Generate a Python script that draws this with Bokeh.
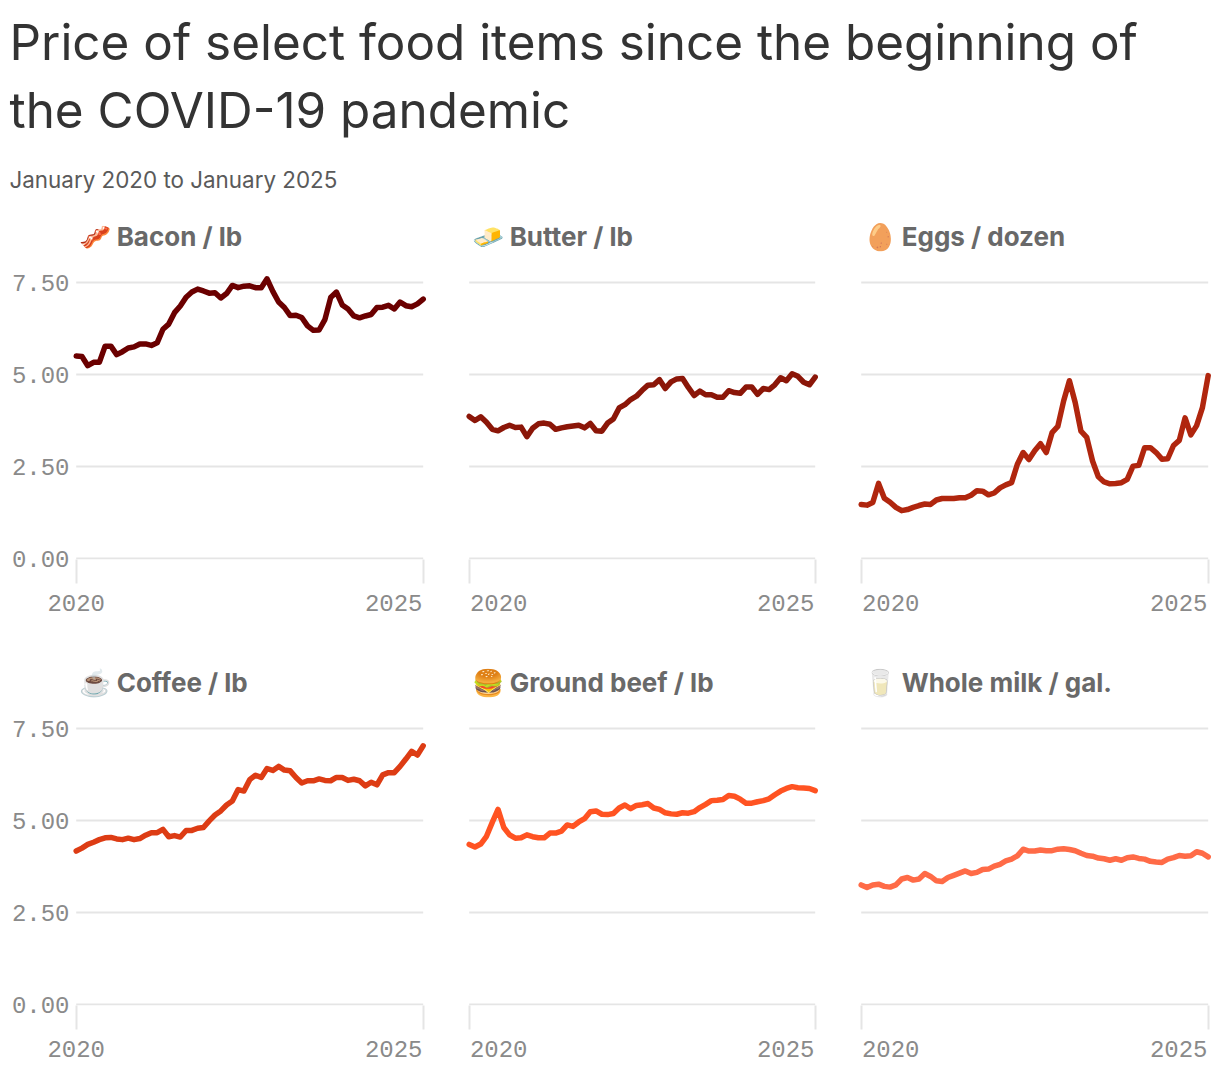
from bokeh.plotting import figure
from bokeh.models import Label, Range1d, FixedTicker, NumeralTickFormatter
from bokeh.layouts import column, row
from bokeh.embed import file_html
from bokeh.resources import INLINE

title_lines = ["Price of select food items since the beginning of", "the COVID-19 pandemic"]
subtitle = "January 2020 to January 2025"
y_ticks = [0, 2.5, 5, 7.5]
x_ticks = [2020, 2025]
months = [2020 + i / 12 for i in range(61)]

bacon = [5.50,5.49,5.24,5.33,5.33,5.77,5.77,5.54,5.62,5.72,5.75,5.83,5.83,5.79,5.86,6.23,6.37,6.68,6.86,7.10,7.24,7.32,7.27,7.21,7.22,7.08,7.20,7.42,7.36,7.40,7.41,7.36,7.36,7.60,7.26,6.97,6.82,6.60,6.61,6.55,6.32,6.20,6.21,6.49,7.09,7.24,6.89,6.78,6.59,6.54,6.59,6.63,6.82,6.83,6.88,6.78,6.97,6.87,6.84,6.92,7.05]
butter = [3.86,3.75,3.85,3.70,3.51,3.47,3.56,3.62,3.56,3.57,3.31,3.54,3.66,3.68,3.65,3.51,3.55,3.58,3.60,3.62,3.55,3.67,3.47,3.46,3.68,3.79,4.09,4.18,4.32,4.41,4.57,4.71,4.72,4.86,4.62,4.80,4.88,4.89,4.65,4.43,4.55,4.45,4.45,4.38,4.38,4.56,4.51,4.49,4.66,4.66,4.46,4.62,4.59,4.72,4.91,4.83,5.02,4.95,4.79,4.72,4.93]
eggs = [1.47,1.45,1.52,2.04,1.64,1.53,1.39,1.30,1.33,1.39,1.44,1.48,1.47,1.59,1.63,1.63,1.63,1.65,1.65,1.72,1.84,1.83,1.73,1.78,1.92,2.00,2.06,2.56,2.88,2.69,2.93,3.12,2.88,3.42,3.59,4.28,4.83,4.24,3.46,3.29,2.65,2.22,2.08,2.03,2.04,2.06,2.15,2.51,2.53,3.01,3.01,2.88,2.70,2.71,3.07,3.21,3.82,3.36,3.61,4.10,4.97]
coffee = [4.17,4.25,4.35,4.41,4.48,4.53,4.54,4.50,4.48,4.52,4.48,4.51,4.60,4.67,4.67,4.76,4.56,4.59,4.55,4.73,4.73,4.79,4.81,4.99,5.15,5.26,5.42,5.53,5.84,5.80,6.11,6.23,6.17,6.41,6.36,6.47,6.37,6.35,6.17,6.02,6.08,6.08,6.13,6.09,6.08,6.17,6.17,6.09,6.12,6.08,5.94,6.04,5.97,6.24,6.30,6.30,6.47,6.67,6.88,6.78,7.03]
beef = [4.35,4.28,4.36,4.57,4.95,5.30,4.81,4.61,4.52,4.53,4.61,4.56,4.53,4.53,4.66,4.66,4.71,4.88,4.84,4.96,5.05,5.24,5.26,5.17,5.16,5.19,5.34,5.42,5.32,5.41,5.43,5.46,5.34,5.30,5.21,5.18,5.17,5.21,5.20,5.24,5.35,5.44,5.54,5.55,5.57,5.68,5.66,5.58,5.47,5.47,5.51,5.54,5.59,5.70,5.80,5.87,5.92,5.89,5.88,5.87,5.81]
milk = [3.25,3.18,3.25,3.27,3.21,3.19,3.25,3.41,3.45,3.38,3.41,3.56,3.48,3.36,3.34,3.45,3.51,3.57,3.63,3.56,3.59,3.67,3.68,3.76,3.81,3.90,3.95,4.04,4.22,4.17,4.17,4.20,4.18,4.18,4.22,4.23,4.21,4.18,4.11,4.05,4.03,3.98,3.96,3.92,3.96,3.92,3.99,4.01,3.97,3.95,3.89,3.87,3.86,3.95,3.99,4.05,4.03,4.04,4.15,4.11,4.01]

panel_names = ["🥓 Bacon / lb", "🧈 Butter / lb", "🥚 Eggs / dozen", "☕ Coffee / lb", "🍔 Ground beef / lb", "🥛 Whole milk / gal."]
panel_series = [bacon, butter, eggs, coffee, beef, milk]
panel_colors = ["#6b0000", "#8b1608", "#b0260e", "#dd3c14", "#ff5322", "#ff6b47"]

TICK_FONT = "Liberation Mono"
TICK_COLOR = "#8a8a8a"
GRID = "#e5e5e5"
PX_Y = 36.8          # px per dollar
SPAN_PX = [347, 346, 347]
PAD_L = [4.7, 4.7, 4.7]
PAD_R = [5.3, 5.3, 4.3]
BORDER_L = [71, 36, 36]


def panel(name, series, color, col, row_i):
    px_x = SPAN_PX[col] / 5
    shift = 29.5 / px_x
    frame_w = round(SPAN_PX[col] + PAD_L[col] + PAD_R[col])
    p = figure(width=BORDER_L[col] + frame_w, height=446 if row_i == 0 else 424,
               output_backend="svg", toolbar_location=None,
               x_range=Range1d(2020 - PAD_L[col] / px_x, 2025 + PAD_R[col] / px_x),
               y_range=Range1d(-1 / PX_Y, 7.5 + 20 / PX_Y),
               min_border_left=BORDER_L[col], min_border_right=0,
               min_border_top=57, min_border_bottom=92 if row_i == 0 else 70,
               outline_line_color=None, background_fill_color="white", border_fill_color="white")
    p.title.text = name
    p.title.text_font = "Inter"
    p.title.text_font_style = "bold"
    p.title.text_font_size = "26px"
    p.title.text_color = "#696969"
    p.title.align = "left"
    p.title.offset = 7
    p.title.standoff = 22
    p.grid.visible = False
    # years: minor ticks mark 2020/2025, labels sit on major positions so they can be edge-aligned
    t0 = x_ticks[0] if col == 0 else round(x_ticks[0] + shift, 6)
    t1 = round(x_ticks[1] - shift, 6)
    xa = p.xaxis[0]
    xa.ticker = FixedTicker(ticks=[t0, t1], minor_ticks=x_ticks)
    xa.major_label_overrides = {t0: str(x_ticks[0]), t1: str(x_ticks[1])}
    xa.axis_line_color = None
    xa.major_tick_line_color = None
    xa.major_tick_in = 0
    xa.major_tick_out = 0
    xa.minor_tick_in = 0
    xa.minor_tick_out = 24
    xa.minor_tick_line_color = GRID
    xa.minor_tick_line_width = 2
    xa.major_label_standoff = 11
    xa.major_label_text_font = TICK_FONT
    xa.major_label_text_font_size = "24px"
    xa.major_label_text_color = TICK_COLOR
    if col == 0:
        ya = p.yaxis[0]
        ya.ticker = FixedTicker(ticks=y_ticks)
        ya.formatter = NumeralTickFormatter(format="0.00")
        ya.axis_line_color = None
        ya.major_tick_line_color = None
        ya.minor_tick_line_color = None
        ya.major_tick_in = 0
        ya.major_tick_out = 0
        ya.major_label_standoff = 2
        ya.major_label_text_font = TICK_FONT
        ya.major_label_text_font_size = "24px"
        ya.major_label_text_color = TICK_COLOR
    else:
        p.yaxis.visible = False
    p.segment(x0=[x_ticks[0]] * 4, x1=[x_ticks[1]] * 4, y0=y_ticks, y1=y_ticks, line_color=GRID, line_width=2)
    p.line(months, series, line_color=color, line_width=5.5, line_join="round", line_cap="round")
    return p


header = figure(width=1212, height=205, output_backend="svg", toolbar_location=None,
                x_range=Range1d(0, 1212), y_range=Range1d(205, 0),
                min_border=0, outline_line_color=None)
header.axis.visible = False
header.grid.visible = False
header.line([0, 0], [0, 0], line_alpha=0)
for i, t in enumerate(title_lines):
    header.add_layout(Label(x=9, y=[41.5, 109][i], text=t, text_font="Inter", text_font_size="49.4px",
                            text_color="#333333", text_baseline="alphabetic"))
header.add_layout(Label(x=9, y=179, text=subtitle, text_font="Inter", text_font_size="22.4px",
                        text_color="#5a5a5a", text_baseline="alphabetic"))

rows = []
for r in range(2):
    rows.append(row([panel(panel_names[r * 3 + c], panel_series[r * 3 + c], panel_colors[r * 3 + c], c, r) for c in range(3)], spacing=0))
page = column([header] + rows, spacing=0)
open("out.html", "w").write(file_html(page, INLINE))
